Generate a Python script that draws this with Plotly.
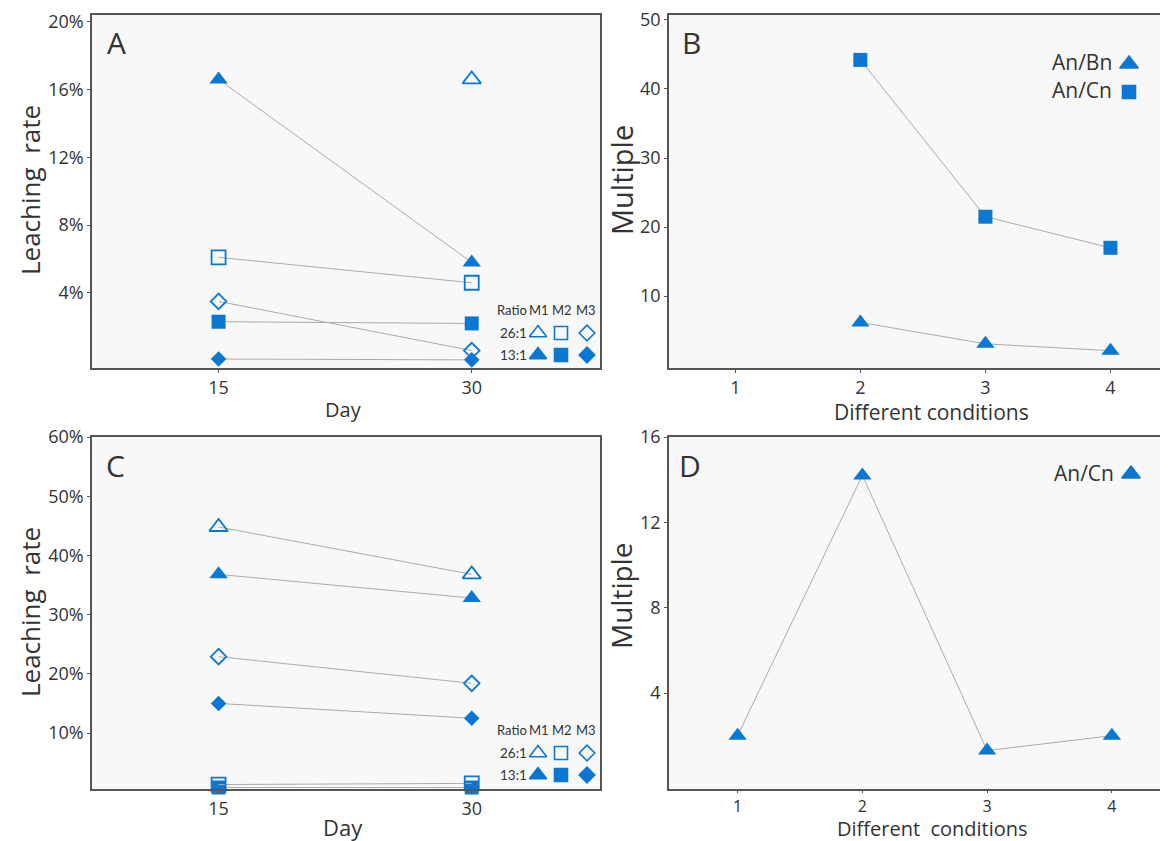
import plotly.graph_objects as go

# ---------------- data ----------------
days = [15, 30]
# Panel A (leaching rate, %)
A_26_M1 = [None, 16.6]
A_13_M1 = [16.6, 5.8]
A_26_M2 = [6.1, 4.6]
A_13_M2 = [2.3, 2.2]
A_26_M3 = [3.5, 0.6]
A_13_M3 = [0.1, 0.05]
# Panel C (leaching rate, %)
C_26_M1 = [44.8, 36.8]
C_13_M1 = [36.8, 32.8]
C_26_M2 = [1.3, 1.5]
C_13_M2 = [0.8, 0.8]
C_26_M3 = [22.9, 18.4]
C_13_M3 = [15.0, 12.5]
# Panel B (multiple)
conditions = [1, 2, 3, 4]
B_AnBn = [None, 6.2, 3.1, 2.1]
B_AnCn = [None, 44.2, 21.5, 17.0]
# Panel D (multiple)
D_AnCn = [2.0, 14.2, 1.3, 2.0]

A_ticks = [4, 8, 12, 16, 20]
C_ticks = [10, 20, 30, 40, 50, 60]
B_ticks = [10, 20, 30, 40, 50]
D_ticks = [4, 8, 12, 16]

BLUE = "#0a78d2"
LINE = "#ababab"
TXT = "#333333"
FONT = "Open Sans"
OFF = 8                     # page body margin around the figure
W, H = 1168 - OFF, 841 - OFF

fig = go.Figure()

def px(x):
    return (x - OFF) / W

def py(y):
    return 1 - (y - OFF) / H

# panel boxes in page pixels: left, right, top, bottom
box = {
    "A": (92, 600, 15, 368),
    "B": (669, 1168, 15, 368),
    "C": (92, 600, 437, 789),
    "D": (669, 1168, 437, 789),
}
dom = {k: ([px(l), min(px(r), 1)], [py(b), py(t)]) for k, (l, r, t, b) in box.items()}

TRI, SQ, DIA = 16, 14, 12

def series(x, y, xa, ya, symbol, size, filled, line=True):
    fig.add_trace(go.Scatter(
        x=x, y=y, xaxis=xa, yaxis=ya,
        mode="lines+markers" if line else "markers",
        line=dict(color=LINE, width=1),
        marker=dict(symbol=symbol if filled else symbol + "-open", size=size, opacity=1,
                    color=BLUE, line=dict(color=BLUE, width=1.8 if not filled else 0)),
        cliponaxis=False, showlegend=False, connectgaps=False))

# Panel A
series(days, A_26_M1, "x", "y", "triangle-up", TRI, False, line=False)
series(days, A_13_M1, "x", "y", "triangle-up", TRI, True)
series(days, A_26_M2, "x", "y", "square", SQ, False)
series(days, A_13_M2, "x", "y", "square", SQ, True)
series(days, A_26_M3, "x", "y", "diamond", DIA, False)
series(days, A_13_M3, "x", "y", "diamond", DIA, True)
# Panel B
series(conditions, B_AnCn, "x2", "y2", "square", SQ, True)
series(conditions, B_AnBn, "x2", "y2", "triangle-up", TRI, True)
# Panel C
series(days, C_26_M1, "x3", "y3", "triangle-up", TRI, False)
series(days, C_13_M1, "x3", "y3", "triangle-up", TRI, True)
series(days, C_13_M3, "x3", "y3", "diamond", DIA, True)
series(days, C_26_M3, "x3", "y3", "diamond", DIA, False)
series(days, C_13_M2, "x3", "y3", "square", SQ, True)
series(days, C_26_M2, "x3", "y3", "square", SQ, False)
# Panel D
series(conditions, D_AnCn, "x4", "y4", "triangle-up", TRI, True)

# legend keys: overlay axes over each panel measured in page pixels
def keys(xa, ya, xs, ys, syms, sizes):
    fig.add_trace(go.Scatter(x=xs, y=ys, xaxis=xa, yaxis=ya, mode="markers",
                             marker=dict(symbol=syms, size=sizes, color=BLUE, opacity=1,
                                         line=dict(color=BLUE, width=1.6)),
                             cliponaxis=False, showlegend=False, hoverinfo="skip"))

for xa, ya, r1, r2 in (("x5", "y5", 333, 355), ("x6", "y6", 753, 775)):
    xs, ys, syms, sizes = [], [], [], []
    for row_y, filled in ((r1, False), (r2, True)):
        for cx, s, sz in ((538, "triangle-up", 15), (561, "square", 13), (587, "diamond", 12)):
            xs.append(cx); ys.append(row_y)
            syms.append(s if filled else s + "-open"); sizes.append(sz)
    keys(xa, ya, xs, ys, syms, sizes)
keys("x7", "y7", [1129, 1129], [64, 92], ["triangle-up", "square"], [TRI, 13])
keys("x8", "y8", [1131], [474], ["triangle-up"], [TRI])

axis_common = dict(showline=True, linecolor="#555555", linewidth=1.5, mirror=True,
                   showgrid=False, zeroline=False, ticks="outside", ticklen=3,
                   tickcolor="#555555", automargin=False, ticklabeloverflow="allow",
                   tickfont=dict(family=FONT, size=18, color=TXT))

def overlay(base, k, horiz):
    l, r, t, b = box[k]
    if horiz:
        return dict(overlaying=base, range=[l, r], visible=False, automargin=False)
    return dict(overlaying=base, range=[b, t], visible=False, automargin=False)

layout = dict(
    width=W, height=H, margin=dict(l=0, r=0, t=0, b=0, autoexpand=False),
    paper_bgcolor="white", plot_bgcolor="#f8f8f8", showlegend=False,
    xaxis=dict(domain=dom["A"][0], range=[7.5, 37.6], tickvals=days, anchor="y", **axis_common),
    yaxis=dict(domain=dom["A"][1], range=[-0.43, 20.4], tickvals=A_ticks,
               ticktext=[f"{v}%" for v in A_ticks], anchor="x", **axis_common),
    xaxis2=dict(domain=dom["B"][0], range=[0.47, 4.46], tickvals=conditions, anchor="y2", **axis_common),
    yaxis2=dict(domain=dom["B"][1], range=[-0.4, 50.7], tickvals=B_ticks, anchor="x2", **axis_common),
    xaxis3=dict(domain=dom["C"][0], range=[7.5, 37.6], tickvals=days, anchor="y3", **axis_common),
    yaxis3=dict(domain=dom["C"][1], range=[0.55, 60], tickvals=C_ticks,
                ticktext=[f"{v}%" for v in C_ticks], anchor="x3", **axis_common),
    xaxis4=dict(domain=dom["D"][0], range=[0.45, 4.45], tickvals=conditions, anchor="y4", **axis_common),
    yaxis4=dict(domain=dom["D"][1], range=[-0.5, 16.0], tickvals=D_ticks, anchor="x4", **axis_common),
    xaxis5=overlay("x", "A", True), yaxis5=overlay("y", "A", False),
    xaxis6=overlay("x3", "C", True), yaxis6=overlay("y3", "C", False),
    xaxis7=overlay("x2", "B", True), yaxis7=overlay("y2", "B", False),
    xaxis8=overlay("x4", "D", True), yaxis8=overlay("y4", "D", False),
)
fig.update_layout(**layout)
fig.update_layout(xaxis4=dict(tickfont=dict(size=16), ticklen=2))

ann = []
def text(x, y, s, size, anchor="center", angle=0, fam=FONT):
    ann.append(dict(x=px(x), y=py(y), xref="paper", yref="paper", text=s, showarrow=False,
                    xanchor=anchor, yanchor="middle", textangle=angle,
                    font=dict(family=fam, size=size, color=TXT)))

# panel letters
text(116, 42, "A", 30); text(691, 42, "B", 30); text(115, 465, "C", 30); text(690, 465, "D", 30)
# axis titles
text(30, 190, "Leaching  rate", 26, angle=-90)
text(30, 612, "Leaching  rate", 26, angle=-90)
text(621, 180, "Multiple", 29, angle=-90)
text(621, 596, "Multiple", 28, angle=-90)
text(343, 410, "Day", 20)
text(343, 827, "Day", 22)
text(931, 412, "Different conditions", 21)
text(932, 828, "Different  conditions", 20)
# legend texts
for base in (310, 730):
    text(512, base, "Ratio", 13, fam="Lato")
    text(539, base, "M1", 13, fam="Lato")
    text(562, base, "M2", 13, fam="Lato")
    text(586, base, "M3", 13, fam="Lato")
    text(513, base + 23, "26:1", 13.5, fam="Lato")
    text(513, base + 45, "13:1", 13.5, fam="Lato")
text(1114, 62, "An/Bn", 21, anchor="right")
text(1114, 90, "An/Cn", 21, anchor="right")
text(1116, 473, "An/Cn", 21, anchor="right")
fig.update_layout(annotations=ann)

fig.write_html("out.html")
